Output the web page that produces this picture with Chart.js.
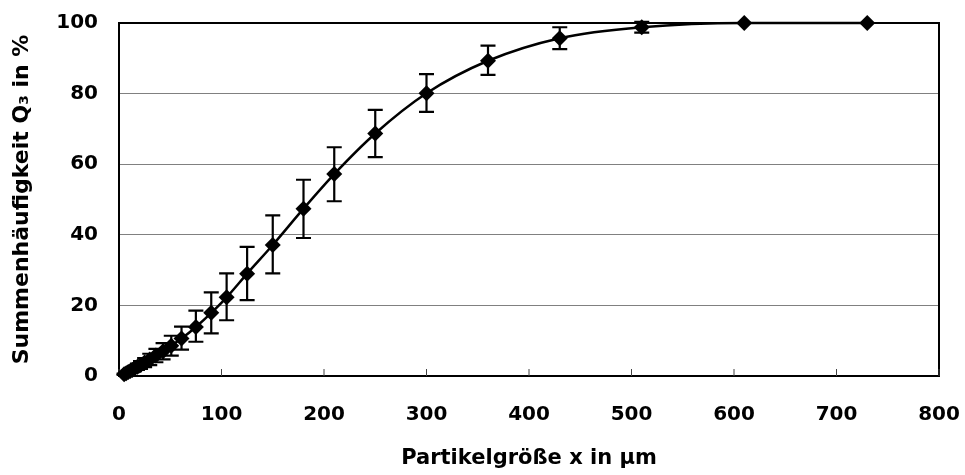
<!DOCTYPE html>
<html>
<head>
<meta charset="utf-8">
<script src="https://cdn.jsdelivr.net/npm/chart.js@4"></script>
<style>
  html, body { margin: 0; padding: 0; background: #fff; }
  #wrap { width: 965px; height: 475px; }
</style>
</head>
<body>
<div id="wrap"><canvas id="chart" width="965" height="475"></canvas></div>
<script>
// Particle size distribution, cumulative Q3

const sizes = [5, 7, 9, 11, 13, 15, 18, 21, 25, 30, 36, 43, 51, 61, 75, 90, 105, 125, 150, 180, 210, 250, 300, 360, 430, 510, 610, 730];
const q3 = [0.5, 0.8, 1.1, 1.4, 1.7, 2.1, 2.6, 3.1, 3.8, 4.7, 5.8, 7.0, 8.6, 10.6, 13.9, 17.9, 22.3, 29.0, 37.1, 47.4, 57.2, 68.7, 80.1, 89.3, 95.7, 98.8, 100, 100];
const errHigh = [0.7, 1.1, 1.5, 1.9, 2.3, 2.8, 3.5, 4.2, 5.1, 6.3, 7.7, 9.3, 11.4, 14.0, 18.5, 23.7, 29.1, 36.6, 45.5, 55.6, 64.8, 75.4, 85.5, 93.6, 98.8, 100.3, 100, 100];
const errLow = [0.3, 0.5, 0.7, 0.9, 1.1, 1.4, 1.7, 2.0, 2.5, 3.1, 3.9, 4.7, 5.8, 7.5, 9.7, 12.1, 15.8, 21.5, 29.1, 39.1, 49.5, 62.0, 74.8, 85.3, 92.6, 97.3, 100, 100];

const FONT = '"DejaVu Sans", Verdana, sans-serif';

// error bars + plot frame + inner x ticks
const errorBars = {
  id: 'errorBars',
  afterDatasetsDraw(chart) {
    const { ctx, scales: { x, y } } = chart;
    ctx.save();
    ctx.strokeStyle = '#000';
    ctx.lineWidth = 2.2;
    sizes.forEach((s, i) => {
      if (errHigh[i] - errLow[i] < 0.3) return;
      const px = x.getPixelForValue(s);
      const top = y.getPixelForValue(Math.min(errHigh[i], 100.5));
      const bot = y.getPixelForValue(errLow[i]);
      ctx.beginPath();
      ctx.moveTo(px, top); ctx.lineTo(px, bot);
      ctx.moveTo(px - 7.5, top); ctx.lineTo(px + 7.5, top);
      ctx.moveTo(px - 7.5, bot); ctx.lineTo(px + 7.5, bot);
      ctx.stroke();
    });
    ctx.restore();
  },
  beforeDatasetsDraw(chart) {
    const { ctx, scales: { x }, chartArea: a } = chart;
    ctx.save();
    ctx.strokeStyle = '#000';
    ctx.lineWidth = 2;
    ctx.strokeRect(a.left, a.top, a.right - a.left, a.bottom - a.top);
    ctx.lineWidth = 1;
    ctx.strokeStyle = '#444';
    x.ticks.forEach(t => {
      const px = x.getPixelForValue(t.value);
      ctx.beginPath();
      ctx.moveTo(px, a.bottom); ctx.lineTo(px, a.bottom - 7);
      ctx.stroke();
    });
    ctx.restore();
  },
};

new Chart(document.getElementById('chart'), {
  type: 'line',
  data: {
    datasets: [{
      data: sizes.map((s, i) => ({ x: s, y: q3[i] })),
      borderColor: '#000',
      backgroundColor: '#000',
      borderWidth: 2.5,
      pointStyle: 'rectRot',
      pointRadius: 8,
      pointBorderWidth: 0,
      cubicInterpolationMode: 'monotone',
      clip: false,
    }],
  },
  options: {
    responsive: false,
    animation: false,
    layout: { autoPadding: false, padding: { top: 23, right: 26, left: 0, bottom: 0 } },
    plugins: { legend: { display: false }, tooltip: { enabled: false } },
    scales: {
      x: {
        type: 'linear', min: 0, max: 800,
        grid: { display: false, drawTicks: false },
        border: { display: false },
        ticks: { stepSize: 100, padding: 27, color: '#000', font: { family: FONT, size: 20, weight: 'bold' } },
        title: { display: true, text: 'Partikelgröße x in µm', color: '#000', padding: { top: 12 },
          font: { family: FONT, size: 21, weight: 'bold' } },
        afterFit(s) { s.height = 99; s.paddingLeft = 0; s.paddingRight = 0; },
      },
      y: {
        type: 'linear', min: 0, max: 100,
        grid: { color: '#808080', lineWidth: 1, drawTicks: false },
        border: { display: false },
        ticks: { stepSize: 20, padding: 21, color: '#000', font: { family: FONT, size: 20, weight: 'bold' } },
        title: { display: true, text: 'Summenhäufigkeit Q₃ in %', color: '#000', padding: { top: 9, bottom: 4 },
          font: { family: FONT, size: 22, weight: 'bold' } },
        afterFit(s) { s.width = 119; s.paddingTop = 0; s.paddingBottom = 0; },
      },
    },
  },
  plugins: [errorBars],
});
</script>
</body>
</html>
